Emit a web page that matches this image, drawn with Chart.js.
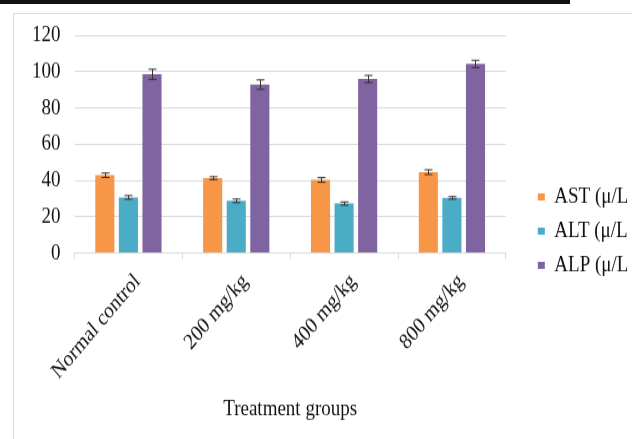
<!DOCTYPE html>
<html>
<head>
<meta charset="utf-8">
<script src="https://cdn.jsdelivr.net/npm/chart.js@4/dist/chart.umd.min.js"></script>
<style>
  html, body { margin: 0; padding: 0; width: 632px; height: 439px; overflow: hidden; background: #fff; }
  #topline { position: absolute; left: 0; top: 0; width: 570px; height: 4px; background: #111; }
  #frame { position: absolute; left: 13px; top: 13px; width: 680px; height: 460px; border: 1px solid #dcdcdc; box-sizing: border-box; }
  /* the reference picture is stretched vertically, so the chart is too */
  #wrap { position: absolute; left: 14px; top: 14px; width: 613px; height: 360px; transform: scale(1, 1.18); transform-origin: 0 0; }
</style>
</head>
<body>
<div id="topline"></div>
<div id="frame"></div>
<div id="wrap"><canvas id="myChart"></canvas></div>
<script>
const groups = ['Normal control', '200 mg/kg', '400 mg/kg', '800 mg/kg'];
const astValues = [42.9, 41.3, 40.3, 44.6];
const astErrors = [1.2, 0.8, 1.3, 1.3];
const altValues = [30.7, 28.8, 27.3, 30.4];
const altErrors = [1.0, 1.0, 0.9, 0.7];
const alpValues = [98.5, 92.8, 95.9, 104.2];
const alpErrors = [2.8, 2.6, 2.0, 2.0];
const yTicks = [0, 20, 40, 60, 80, 100, 120];

const serif = '"Liberation Serif", "Times New Roman", serif';

// draws the +/- error whiskers on top of each bar
const errorBars = {
    id: 'errorBars',
    afterDatasetsDraw(chart) {
        const ctx = chart.ctx;
        const yScale = chart.scales.y;
        ctx.save();
        ctx.strokeStyle = '#333';
        ctx.lineWidth = 1;
        chart.data.datasets.forEach((ds, i) => {
            const meta = chart.getDatasetMeta(i);
            meta.data.forEach((bar, j) => {
                const err = ds.errors[j];
                const top = yScale.getPixelForValue(ds.data[j] + err);
                const bottom = yScale.getPixelForValue(ds.data[j] - err);
                const x = Math.round(bar.x) + 0.5;
                ctx.beginPath();
                ctx.moveTo(x, top);
                ctx.lineTo(x, bottom);
                ctx.moveTo(x - 4, top);
                ctx.lineTo(x + 4, top);
                ctx.moveTo(x - 4, bottom);
                ctx.lineTo(x + 4, bottom);
                ctx.stroke();
            });
        });
        ctx.restore();
    }
};

const chartData = {
    labels: groups,
    datasets: [
        { label: 'AST (\u03bc/L)', data: astValues, errors: astErrors, backgroundColor: '#F79646' },
        { label: 'ALT (\u03bc/L)', data: altValues, errors: altErrors, backgroundColor: '#4BACC6' },
        { label: 'ALP (\u03bc/L)', data: alpValues, errors: alpErrors, backgroundColor: '#8064A2' }
    ]
};

const ctx = document.getElementById('myChart').getContext('2d');
const myChart = new Chart(ctx, {
    type: 'bar',
    data: chartData,
    plugins: [errorBars],
    options: {
        responsive: true,
        maintainAspectRatio: false,
        animation: false,
        datasets: { bar: { categoryPercentage: 0.656, barPercentage: 0.81 } },
        layout: { padding: { top: 18, left: 18, bottom: 10, right: 0 } },
        plugins: {
            tooltip: { enabled: false },
            legend: {
                position: 'right',
                labels: {
                    boxWidth: 7, boxHeight: 6, padding: 10,
                    color: '#111',
                    font: { family: serif, size: 19 }
                }
            }
        },
        scales: {
            x: {
                grid: { drawOnChartArea: false, drawTicks: true, tickLength: 5, color: '#d9d9d9' },
                border: { display: true, color: '#d9d9d9' },
                ticks: { color: '#111', maxRotation: 45, minRotation: 45, padding: 8, labelOffset: 9, font: { family: serif, size: 19 } },
                title: { display: true, text: 'Treatment groups', color: '#111', padding: { top: 1 }, font: { family: serif, size: 19 } }
            },
            y: {
                min: 0, max: 120,
                afterBuildTicks: s => { s.ticks = yTicks.map(v => ({ value: v })); },
                grid: { color: '#d9d9d9', drawTicks: true, tickLength: 14, tickColor: 'rgba(0,0,0,0)' },
                border: { display: false },
                ticks: { color: '#111', padding: 0, font: { family: serif, size: 19 } }
            },
            gap: {
                position: 'right',
                display: true,
                grid: { display: false },
                border: { display: false },
                ticks: { display: false },
                afterFit: s => { s.width = 22; }
            }
        }
    }
});
</script>
</body>
</html>
